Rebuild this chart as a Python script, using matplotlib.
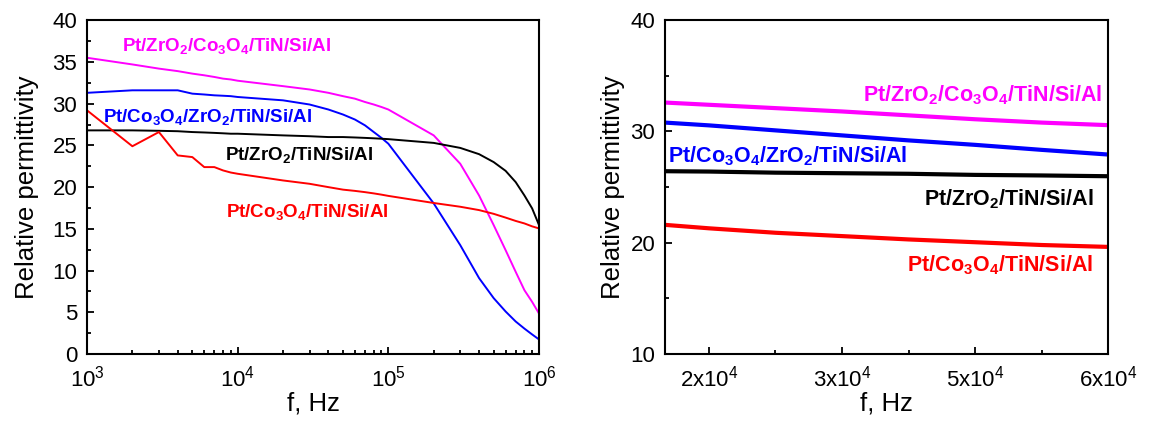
import numpy as np
import matplotlib
matplotlib.use("Agg")
import matplotlib.pyplot as plt
from matplotlib.ticker import MultipleLocator, FixedLocator, FixedFormatter, LogLocator, NullFormatter

plt.rcParams['font.family'] = ['Liberation Sans', 'DejaVu Sans']
plt.rcParams['mathtext.fontset'] = 'custom'
plt.rcParams['mathtext.rm'] = 'Liberation Sans'
plt.rcParams['mathtext.bf'] = 'Liberation Sans:bold'
plt.rcParams['mathtext.it'] = 'Liberation Sans:italic'

# Full sweep, 1 kHz .. 1 MHz
freq = [1e3, 2e3, 3e3, 4e3, 5e3, 6e3, 7e3, 8e3, 9e3,
        1e4, 2e4, 3e4, 4e4, 5e4, 6e4, 7e4, 8e4, 9e4,
        1e5, 2e5, 3e5, 4e5, 5e5, 6e5, 7e5, 8e5, 9e5,
        1e6]

eps_zro_coo = [35.5, 34.7, 34.2, 33.9, 33.6, 33.4, 33.2, 33.0, 32.9,
               32.75, 32.1, 31.7, 31.3, 30.9, 30.6, 30.2, 29.9, 29.6,
               29.3, 26.2, 22.8, 19.0, 15.45, 12.45, 9.85, 7.65, 6.25,
               4.85]
eps_coo_zro = [31.3, 31.6, 31.6, 31.6, 31.2, 31.1, 31.0, 30.95, 30.9,
               30.8, 30.4, 29.9, 29.3, 28.7, 28.1, 27.4, 26.6, 25.9,
               25.2, 18.05, 13.05, 9.1, 6.7, 5.1, 3.9, 3.05, 2.35,
               1.75]
eps_zro = [26.8, 26.8, 26.75, 26.7, 26.6, 26.55, 26.5, 26.45, 26.4,
           26.4, 26.2, 26.1, 26.0, 26.0, 25.95, 25.9, 25.85, 25.8,
           25.75, 25.3, 24.7, 23.95, 23.0, 21.95, 20.6, 19.0, 17.45,
           15.45]
eps_coo = [29.2, 24.9, 26.6, 23.8, 23.6, 22.4, 22.4, 22.0, 21.75,
           21.6, 20.8, 20.4, 20.0, 19.7, 19.55, 19.4, 19.25, 19.1,
           18.95, 18.1, 17.65, 17.25, 16.8, 16.35, 15.95, 15.65, 15.3,
           15.05]

# Zoomed window (tick index units on the x axis)
pos_zoom = [1.67, 2.0, 2.5, 3.0, 3.5, 4.0, 4.5, 5.0]
zoom_ticks = [2, 3, 4, 5]
zoom_ticklabels = ['2x10$^4$', '3x10$^4$', '5x10$^4$', '6x10$^4$']
zoom_zro_coo = [32.6, 32.4, 32.1, 31.8, 31.45, 31.1, 30.8, 30.57]
zoom_coo_zro = [30.8, 30.55, 30.1, 29.65, 29.2, 28.8, 28.35, 27.93]
zoom_zro = [26.43, 26.4, 26.3, 26.25, 26.2, 26.1, 26.05, 25.98]
zoom_coo = [21.61, 21.3, 20.9, 20.6, 20.3, 20.05, 19.8, 19.63]

lbl_zro_coo = r'Pt/ZrO$_\mathbf{2}$/Co$_\mathbf{3}$O$_\mathbf{4}$/TiN/Si/Al'
lbl_coo_zro = r'Pt/Co$_\mathbf{3}$O$_\mathbf{4}$/ZrO$_\mathbf{2}$/TiN/Si/Al'
lbl_zro = r'Pt/ZrO$_\mathbf{2}$/TiN/Si/Al'
lbl_coo = r'Pt/Co$_\mathbf{3}$O$_\mathbf{4}$/TiN/Si/Al'

MAG, BLU, BLK, RED = '#ff00ff', '#0000ff', '#000000', '#ff0000'


def style_axes(ax):
    for s in ax.spines.values():
        s.set_linewidth(1.5)
    ax.tick_params(which='both', direction='in', width=1.3, labelsize=16,
                   top=False, right=False)
    ax.tick_params(which='major', length=5)
    ax.tick_params(which='minor', length=3)
    ax.tick_params(axis='y', which='major', pad=7)
    ax.tick_params(axis='x', which='major', pad=8)
    ax.set_xlabel('f, Hz', fontsize=18.5, labelpad=0)


def main():
    fig = plt.figure(figsize=(11.54, 4.21), dpi=100)

    # Full frequency range
    ax1 = fig.add_axes([0.0754, 0.159, 0.3917, 0.793])
    ax1.plot(freq, eps_zro_coo, color=MAG, lw=1.4)
    ax1.plot(freq, eps_coo_zro, color=BLU, lw=1.4)
    ax1.plot(freq, eps_zro, color=BLK, lw=1.4)
    ax1.plot(freq, eps_coo, color=RED, lw=1.4)
    ax1.set_xscale('log')
    ax1.set_xlim(1e3, 1e6)
    ax1.set_ylim(0, 40)
    ax1.yaxis.set_major_locator(MultipleLocator(5))
    ax1.yaxis.set_minor_locator(MultipleLocator(2.5))
    ax1.xaxis.set_major_locator(LogLocator(base=10, numticks=10))
    ax1.xaxis.set_minor_locator(LogLocator(base=10, subs=np.arange(2, 10), numticks=10))
    ax1.xaxis.set_minor_formatter(NullFormatter())
    style_axes(ax1)
    ax1.set_ylabel('Relative permittivity', fontsize=18.5, labelpad=10)

    ax1.text(1.71e3, 36.3, lbl_zro_coo, color=MAG, fontsize=13.5, fontweight='bold')
    ax1.text(1.28e3, 27.8, lbl_coo_zro, color=BLU, fontsize=13.5, fontweight='bold')
    ax1.text(8.2e3, 23.3, lbl_zro, color=BLK, fontsize=13.5, fontweight='bold')
    ax1.text(8.4e3, 16.4, lbl_coo, color=RED, fontsize=13.5, fontweight='bold')

    # Zoomed window
    ax2 = fig.add_axes([0.5763, 0.159, 0.3839, 0.793])
    ax2.plot(pos_zoom, zoom_zro_coo, color=MAG, lw=3)
    ax2.plot(pos_zoom, zoom_coo_zro, color=BLU, lw=3)
    ax2.plot(pos_zoom, zoom_zro, color=BLK, lw=3)
    ax2.plot(pos_zoom, zoom_coo, color=RED, lw=3)
    ax2.set_xlim(pos_zoom[0], pos_zoom[-1])
    ax2.set_ylim(10, 40)
    ax2.yaxis.set_major_locator(MultipleLocator(10))
    ax2.yaxis.set_minor_locator(MultipleLocator(5))
    ax2.xaxis.set_major_locator(FixedLocator(zoom_ticks))
    ax2.xaxis.set_major_formatter(FixedFormatter(zoom_ticklabels))
    ax2.xaxis.set_minor_locator(FixedLocator([2.5, 3.5, 4.5]))
    style_axes(ax2)
    ax2.set_ylabel('Relative permittivity', fontsize=18.5, labelpad=4)

    ax2.text(4.955, 32.66, lbl_zro_coo, color=MAG, fontsize=15.5, fontweight='bold', ha='right')
    ax2.text(1.69, 27.18, lbl_coo_zro, color=BLU, fontsize=15.5, fontweight='bold')
    ax2.text(4.89, 23.38, lbl_zro, color=BLK, fontsize=15.5, fontweight='bold', ha='right')
    ax2.text(4.89, 17.39, lbl_coo, color=RED, fontsize=15.5, fontweight='bold', ha='right')

    fig.savefig('out.png', dpi=100)


if __name__ == "__main__":
    main()
